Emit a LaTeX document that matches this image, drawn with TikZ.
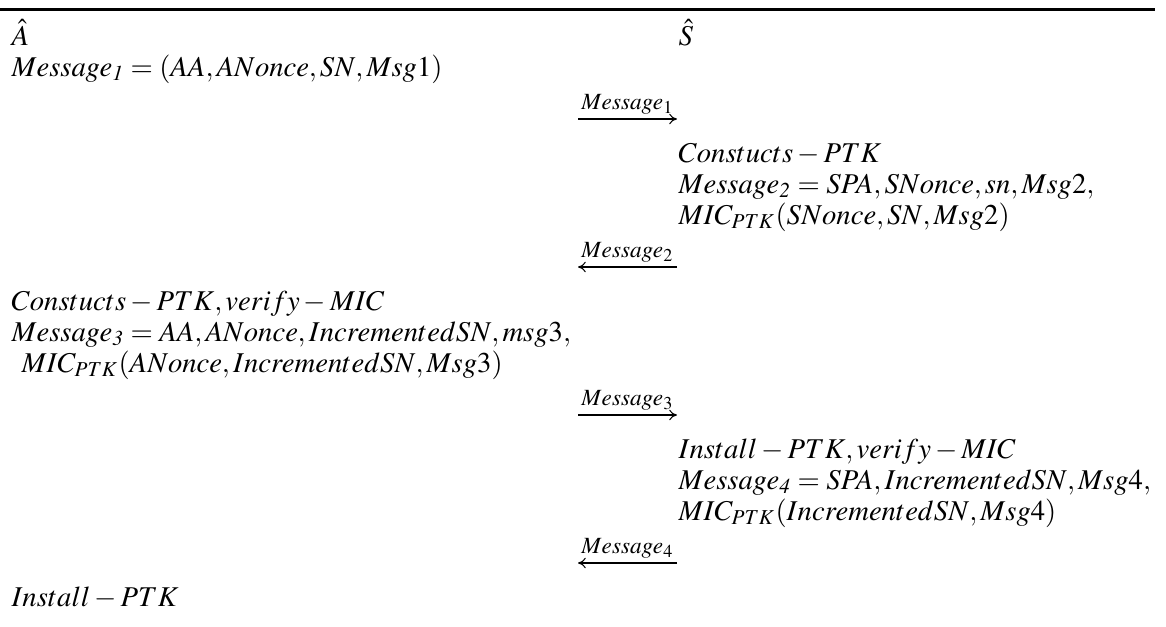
\documentclass[tikz,border=0pt]{standalone}
\usepackage{mathptmx}
\usetikzlibrary{arrows.meta}

\begin{document}
\begin{tikzpicture}[
      x=0.3871pt, y=-0.3871pt,
      every node/.style={font=\fontsize{11.1}{13}\selectfont},
      txt/.style={anchor=base west, inner sep=0pt},
      msgarrow/.style={-{To[length=3pt,width=4pt]}, line width=0.4pt},
      msglabel/.style={above, font=\fontsize{9}{10}\selectfont, inner sep=1.6pt}
    ]
      \useasboundingbox (0,0) rectangle (1166,626);
      \draw[line width=1pt] (0,9.5) -- (1155,9.5);
      \node[txt] (ahat) at (11,45) {$\hat{A}$};
      \node[txt] (shat) at (678,45) {$\hat{S}$};
      \node[txt] (msgone) at (11,76) {$Message_{\mathit{1}} = (AA, ANonce, SN, Msg1)$};
      \coordinate (m1l) at (578,119);
      \coordinate (m1r) at (677,119);
      \draw[msgarrow] (m1l) -- node[msglabel] {$Message_1$} (m1r);
      \node[txt] (sptk) at (678,162) {$Constucts-PTK$};
      \node[txt] (msgtwo) at (678,193) {$Message_{\mathit{2}} = SPA, SNonce, sn, Msg2,$};
      \node[txt] (mictwo) at (678,224) {$MIC_{PTK}(SNonce, SN, Msg2)$};
      \coordinate (m2l) at (578,267);
      \coordinate (m2r) at (677,267);
      \draw[msgarrow] (m2r) -- node[msglabel] {$Message_2$} (m2l);
      \node[txt] (aptk) at (11,310) {$Constucts-PTK, verify-MIC$};
      \node[txt] (msgthree) at (11,341) {$Message_{\mathit{3}} = AA, ANonce, IncrementedSN, msg3,$};
      \node[txt] (micthree) at (21,372) {$MIC_{PTK}(ANonce, IncrementedSN, Msg3)$};
      \coordinate (m3l) at (578,415);
      \coordinate (m3r) at (677,415);
      \draw[msgarrow] (m3l) -- node[msglabel] {$Message_3$} (m3r);
      \node[txt] (sinst) at (678,458) {$Install-PTK, verify-MIC$};
      \node[txt] (msgfour) at (678,489) {$Message_{\mathit{4}} = SPA, IncrementedSN, Msg4,$};
      \node[txt] (micfour) at (678,520) {$MIC_{PTK}(IncrementedSN, Msg4)$};
      \coordinate (m4l) at (578,563);
      \coordinate (m4r) at (677,563);
      \draw[msgarrow] (m4r) -- node[msglabel] {$Message_4$} (m4l);
      \node[txt] (ainst) at (11,606) {$Install-PTK$};
    \end{tikzpicture}
\end{document}
